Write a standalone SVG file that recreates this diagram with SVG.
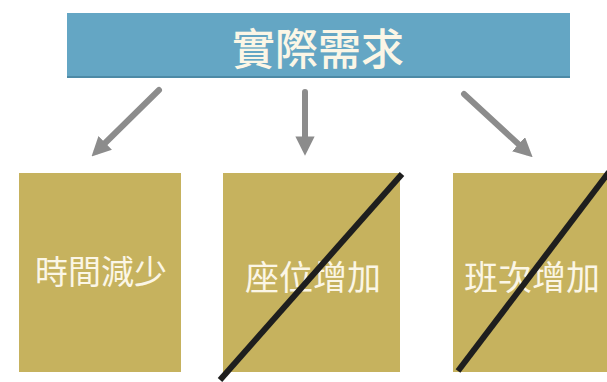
<svg xmlns="http://www.w3.org/2000/svg" width="607" height="382" viewBox="0 0 607 382">
<defs>
<style>
.box{fill:#c6b25e;}
.lbl{font-family:"Noto Sans CJK TC","Noto Sans CJK SC",sans-serif;fill:#fbf6e6;text-anchor:middle;dominant-baseline:central;}
.conn{stroke:#8c8c8c;stroke-width:6;stroke-linecap:round;fill:none;marker-end:url(#ah);}
.cross{stroke:#1e1e1e;stroke-width:6;stroke-linecap:butt;}
</style>
<marker id="ah" viewBox="0 0 10 10" refX="6" refY="5" markerWidth="3.2" markerHeight="3.2" orient="auto" markerUnits="strokeWidth">
<path d="M0,0 L10,5 L0,10 z" fill="#8c8c8c"/>
</marker>
</defs>
<rect width="607" height="382" fill="#ffffff"/>
<g id="top">
<rect x="67" y="13" width="503" height="65" fill="#64a6c4"/>
<rect x="67" y="76" width="503" height="2" fill="#4d8aa6"/>
<text class="lbl" x="318" y="46" font-size="43" font-weight="500">實際需求</text>
</g>
<g id="connectors">
<line class="conn" x1="159" y1="90" x2="97" y2="151"/>
<line class="conn" x1="305" y1="92" x2="305" y2="148"/>
<line class="conn" x1="464" y1="94" x2="527" y2="152"/>
</g>
<g id="n1">
<rect class="box" x="19" y="173" width="162" height="199"/>
<text class="lbl" x="101" y="270" font-size="33">時間減少</text>
</g>
<g id="n2">
<rect class="box" x="223" y="173" width="177" height="199"/>
<text class="lbl" x="313" y="275" font-size="34">座位增加</text>
<line class="cross" x1="402" y1="174" x2="220" y2="380"/>
</g>
<g id="n3">
<rect class="box" x="453" y="173" width="160" height="199"/>
<text class="lbl" x="532" y="275" font-size="34">班次增加</text>
<line class="cross" x1="609" y1="172" x2="458" y2="371"/>
</g>
</svg>
